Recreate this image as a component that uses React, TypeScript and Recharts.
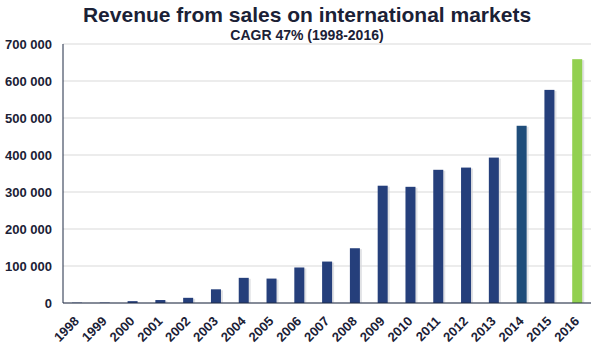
import React from 'react';
import { BarChart, Bar, XAxis, YAxis, CartesianGrid, Cell } from 'recharts';

const years = ['1998','1999','2000','2001','2002','2003','2004','2005','2006','2007','2008','2009','2010','2011','2012','2013','2014','2015','2016'];
const revenue = [800, 1000, 5000, 8000, 14000, 37000, 68000, 66000, 96000, 112000, 148000, 317000, 314000, 360000, 366000, 393000, 479000, 576000, 659000];
const barColors = ['#253f7b','#253f7b','#253f7b','#253f7b','#253f7b','#253f7b','#253f7b','#253f7b','#253f7b','#253f7b','#253f7b','#253f7b','#253f7b','#253f7b','#253f7b','#253f7b','#1f4d7a','#253f7b','#92d050'];
const yTicks = [0, 100000, 200000, 300000, 400000, 500000, 600000, 700000];
const title = 'Revenue from sales on international markets';
const subtitle = 'CAGR 47% (1998-2016)';

const data = years.map((y, i) => ({ year: y, value: revenue[i] }));

const fmt = (v: number) => {
  if (v === 0) return '0';
  const s = String(v);
  return s.slice(0, s.length - 3) + ' ' + s.slice(-3);
};

const FONT = '"Liberation Sans", Arial, sans-serif';
const TXT = '#1b2136';

const ShadowBar = (props: any) => {
  const { x, y, width, height, fill } = props;
  if (height <= 0) return null;
  return (
    <g>
      <rect x={x + 2} y={y + 1} width={width} height={height - 1} fill="#d4d6da" opacity={0.7} />
      <rect x={x} y={y} width={width} height={height} fill={fill} />
    </g>
  );
};

const XTick = (props: any) => {
  const { x, y, payload } = props;
  return (
    <text x={x + 3} y={y + 11} transform={`rotate(-45 ${x + 3} ${y + 11})`} textAnchor="end"
      fontFamily={FONT} fontWeight="bold" fontSize={13} fill={TXT}>{payload.value}</text>
  );
};

const YTick = (props: any) => {
  const { y, payload } = props;
  return (
    <text x={52} y={y + 4.5} textAnchor="end" fontFamily={FONT} fontWeight="bold" fontSize={13} fill={TXT}>
      {fmt(payload.value)}
    </text>
  );
};

export default function App() {
  return (
    <div style={{ position: 'absolute', left: 0, top: 0, width: 609, height: 357, background: '#fff' }}>
      <BarChart width={609} height={357} data={data} margin={{ top: 44, right: 18, bottom: 0, left: 0 }} barSize={10}>
        <text x={307} y={22} textAnchor="middle" fontFamily={FONT} fontWeight="bold" fontSize={21} fill={TXT}>{title}</text>
        <text x={307} y={40} textAnchor="middle" fontFamily={FONT} fontWeight="bold" fontSize={14} fill={TXT}>{subtitle}</text>
        <CartesianGrid vertical={false} stroke="#d9d9d9" />
        <XAxis dataKey="year" height={54} tick={<XTick />} tickLine={false} axisLine={{ stroke: '#1f2a44' }} interval={0} />
        <YAxis width={63} domain={[0, 700000]} ticks={yTicks} tick={<YTick />} tickLine={false} axisLine={{ stroke: '#1f2a44' }} />
        <Bar dataKey="value" isAnimationActive={false} shape={<ShadowBar />}>
          {data.map((d, i) => <Cell key={d.year} fill={barColors[i]} />)}
        </Bar>
      </BarChart>
    </div>
  );
}
